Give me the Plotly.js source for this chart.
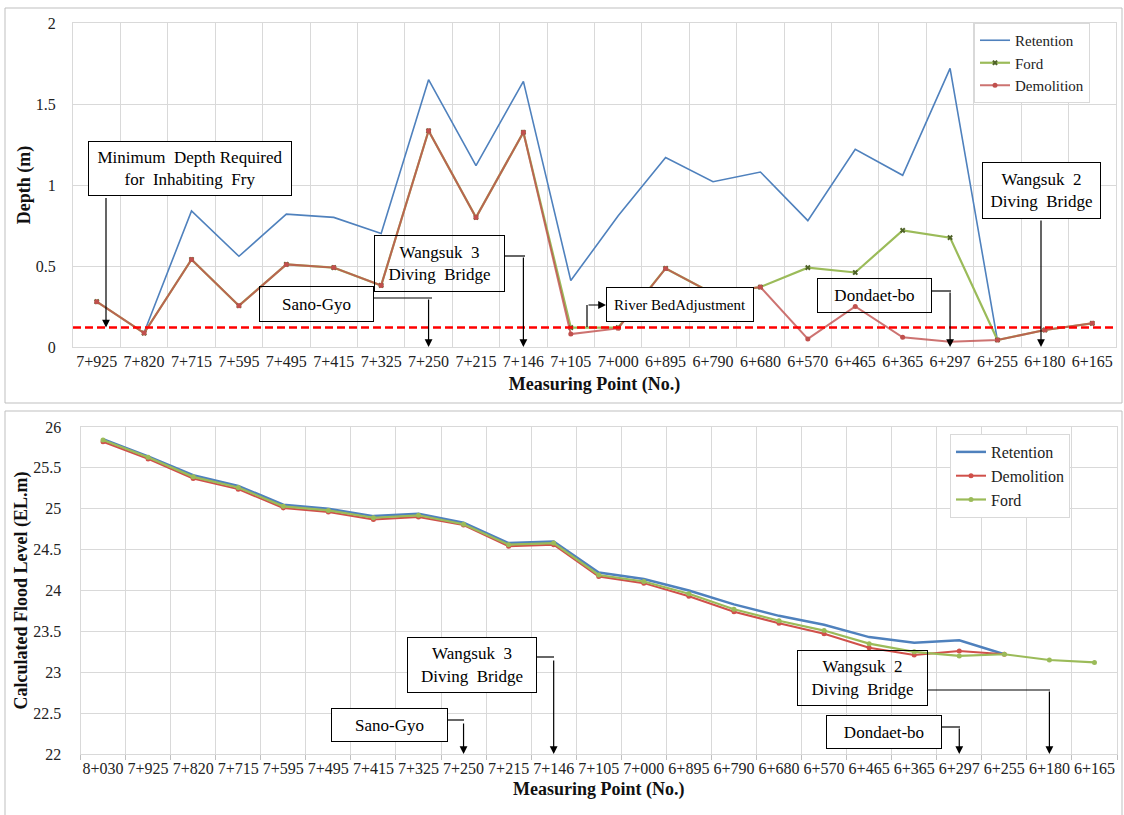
<!DOCTYPE html>
<html>
<head>
<meta charset="utf-8">
<script src="https://cdn.plot.ly/plotly-3.0.1.min.js"></script>
<style>html,body{margin:0;padding:0;background:#fff;}#chart{width:1124px;height:815px;}</style>
</head>
<body>
<div id="chart"></div>
<script>
// ---------- data ----------
const topLabels = ['7+925','7+820','7+715','7+595','7+495','7+415','7+325','7+250','7+215','7+146','7+105','7+000','6+895','6+790','6+680','6+570','6+465','6+365','6+297','6+255','6+180','6+165'];
const topRetention  = [null,0.09,0.84,0.56,0.82,0.80,0.70,1.65,1.12,1.64,0.41,0.81,1.17,1.02,1.08,0.78,1.22,1.06,1.72,0.04,null,null];
const topFord       = [0.28,0.086,0.54,0.255,0.51,0.49,0.38,1.335,0.80,1.325,0.12,0.12,0.485,0.33,0.37,0.49,0.46,0.72,0.675,0.043,0.105,0.146];
const topDemolition = [0.28,0.086,0.54,0.255,0.51,0.49,0.38,1.335,0.80,1.325,0.08,0.115,0.485,0.33,0.37,0.05,0.25,0.06,0.033,0.043,0.105,0.146];
const minDepthFry = 0.12;

const botLabels = ['8+030','7+925','7+820','7+715','7+595','7+495','7+415','7+325','7+250','7+215','7+146','7+105','7+000','6+895','6+790','6+680','6+570','6+465','6+365','6+297','6+255','6+180','6+165'];
const botRetention  = [25.85,25.64,25.41,25.28,25.05,25.00,24.91,24.94,24.83,24.58,24.60,24.22,24.14,24.00,23.83,23.69,23.58,23.43,23.36,23.39,23.22];
const botDemolition = [25.82,25.61,25.37,25.24,25.01,24.96,24.87,24.90,24.80,24.54,24.56,24.17,24.09,23.93,23.74,23.60,23.47,23.30,23.21,23.26,23.22];
const botFord       = [25.84,25.63,25.39,25.26,25.03,24.98,24.89,24.92,24.81,24.56,24.58,24.19,24.11,23.96,23.77,23.63,23.51,23.35,23.25,23.20,23.22,23.15,23.12];

// ---------- helpers ----------
const W = 1124, H = 815;
const px = x => x / W;
const py = y => 1 - y / H;
const SERIF = '"Liberation Serif", "DejaVu Serif", "Times New Roman", Times, serif';
const C_BLUE = '#4F81BD', C_GREEN = '#9BBB59', C_RED = '#C0504D';

const traces = [
  {x: topLabels, y: topRetention, name: 'Retention', type: 'scatter', mode: 'lines',
   line: {color: C_BLUE, width: 1.6}, xaxis: 'x', yaxis: 'y', legend: 'legend'},
  {x: topLabels, y: topFord, name: 'Ford', type: 'scatter', mode: 'lines+markers',
   line: {color: C_GREEN, width: 2.2}, marker: {symbol: 'x', size: 5, color: '#4F6228'},
   xaxis: 'x', yaxis: 'y', legend: 'legend'},
  {x: topLabels, y: topDemolition, name: 'Demolition', type: 'scatter', mode: 'lines+markers',
   line: {color: 'rgba(192,80,77,0.8)', width: 2}, marker: {symbol: 'circle', size: 5, color: C_RED},
   xaxis: 'x', yaxis: 'y', legend: 'legend'},

  {x: botLabels, y: botRetention, name: 'Retention', type: 'scatter', mode: 'lines',
   line: {color: C_BLUE, width: 2.5}, xaxis: 'x2', yaxis: 'y2', legend: 'legend2'},
  {x: botLabels, y: botDemolition, name: 'Demolition', type: 'scatter', mode: 'lines+markers',
   line: {color: '#D0504A', width: 2}, marker: {symbol: 'circle', size: 5, color: '#D0504A'},
   xaxis: 'x2', yaxis: 'y2', legend: 'legend2'},
  {x: botLabels, y: botFord, name: 'Ford', type: 'scatter', mode: 'lines+markers',
   line: {color: C_GREEN, width: 2.2}, marker: {symbol: 'circle', size: 5, color: C_GREEN},
   xaxis: 'x2', yaxis: 'y2', legend: 'legend2'}
];

const tickFont = {family: SERIF, size: 16, color: '#222'};
const titleFont = {family: SERIF, size: 18, color: '#111', weight: 'bold'};
const GRID = '#d9d9d9';

function box(x0, y0, x1, y1, text, fill, size) {
  const pad = 2;
  return {xref: 'paper', yref: 'paper', x: px(x0), y: py(y0), xanchor: 'left', yanchor: 'top',
    width: x1 - x0 - 2 * pad - 2, height: y1 - y0 - 2 * pad - 2, borderpad: pad,
    text: text, showarrow: false, bgcolor: fill || 'rgba(255,255,255,0)', bordercolor: '#000', borderwidth: 1,
    align: 'center', valign: 'middle', font: {family: SERIF, size: size || 17, color: '#000'}};
}
function arrow(x, xref, y, yref, ax, ay) {
  return {x: x, xref: xref, y: y, yref: yref, ax: ax, ay: ay, text: '', showarrow: true,
    arrowhead: 2, arrowsize: 1.3, arrowwidth: 1.2, arrowcolor: '#000'};
}
function seg(x0, y0, x1, y1) {
  return {type: 'line', xref: 'paper', yref: 'paper', x0: px(x0), y0: py(y0), x1: px(x1), y1: py(y1),
    line: {color: '#000', width: 1.2}};
}

const annotations = [
  // top chart
  box(88, 141, 292, 196, 'Minimum  Depth Required<br>for  Inhabiting  Fry', '#fff'),
  arrow(px(106), 'paper', minDepthFry, 'y', 0, -131),
  box(259, 286, 374, 322, 'Sano-Gyo'),
  arrow('7+250', 'x', 0, 'y', 0, -49),
  box(374, 235, 505, 292, 'Wangsuk  3<br>Diving  Bridge'),
  arrow('7+146', 'x', 0, 'y', 0, -91),
  box(606, 287, 754, 322, 'River BedAdjustment', '#fff', 15),
  arrow(px(606), 'paper', py(305), 'paper', -19, 0),
  box(817, 278, 932, 313, 'Dondaet-bo'),
  arrow('6+297', 'x', 0, 'y', 0, -56),
  box(982, 162, 1101, 219, 'Wangsuk  2<br>Diving  Bridge', '#fff'),
  arrow(px(1041), 'paper', 0, 'y', 0, -128),
  // bottom chart
  box(407, 637, 537, 693, 'Wangsuk  3<br>Diving  Bridge', '#fff'),
  arrow('7+146', 'x2', 22, 'y2', 0, -95),
  box(331, 708, 448, 742, 'Sano-Gyo', '#fff'),
  arrow('7+250', 'x2', 22, 'y2', 0, -32),
  box(797, 650, 928, 706, 'Wangsuk  2<br>Diving  Bridge'),
  arrow('6+180', 'x2', 22, 'y2', 0, -64),
  box(826, 715, 942, 749, 'Dondaet-bo', '#fff'),
  arrow('6+297', 'x2', 22, 'y2', 0, -27)
];

const shapes = [
  {type: 'rect', xref: 'paper', yref: 'paper', x0: px(5), y0: py(8), x1: px(1122), y1: py(403),
   line: {color: '#bfbfbf', width: 1}, layer: 'below'},
  {type: 'rect', xref: 'paper', yref: 'paper', x0: px(5), y0: py(411), x1: px(1122), y1: py(816),
   line: {color: '#bfbfbf', width: 1}, layer: 'below'},
  {type: 'line', xref: 'x domain', yref: 'y', x0: 0, x1: 1, y0: minDepthFry, y1: minDepthFry,
   line: {color: '#FF0000', width: 2.5, dash: '8px,4px'}},
  // connectors (top)
  seg(374, 298, 432, 298),
  seg(505, 256, 525, 256),
  seg(587, 327, 587, 305),
  seg(932, 291, 951, 291),
  // connectors (bottom)
  seg(537, 657, 554, 657),
  seg(448, 720, 464, 720),
  seg(928, 690, 1050, 690),
  seg(942, 727, 960, 727)
];

const layout = {
  width: W, height: H,
  margin: {l: 0, r: 0, t: 0, b: 0},
  paper_bgcolor: '#fff', plot_bgcolor: '#fff',
  showlegend: true,
  xaxis: {domain: [px(73), px(1116)], anchor: 'y', type: 'category',
    categoryorder: 'array', categoryarray: topLabels, range: [-0.5, topLabels.length - 0.5],
    tickson: 'boundaries', ticks: '', showgrid: true, gridcolor: GRID, gridwidth: 1,
    showline: true, mirror: true, linecolor: GRID, tickfont: tickFont, tickangle: 0,
    title: {text: 'Measuring Point (No.)', font: titleFont, standoff: 8}, fixedrange: true},
  yaxis: {domain: [py(347), py(23)], anchor: 'x', range: [0, 2], dtick: 0.5,
    showgrid: true, gridcolor: GRID, zeroline: false, showline: true, mirror: true, linecolor: GRID,
    tickfont: tickFont, ticklabelstandoff: 13,
    title: {text: 'Depth (m)', font: titleFont, standoff: 0}, fixedrange: true},
  xaxis2: {domain: [px(80.5), px(1117)], anchor: 'y2', type: 'category',
    categoryorder: 'array', categoryarray: botLabels, range: [-0.5, botLabels.length - 0.5],
    tickson: 'boundaries', ticks: 'outside', ticklen: 5, tickcolor: '#bfbfbf',
    showgrid: true, gridcolor: GRID, gridwidth: 1,
    showline: true, mirror: true, linecolor: GRID, tickfont: tickFont, tickangle: 0,
    title: {text: 'Measuring Point (No.)', font: titleFont, standoff: 6}, fixedrange: true},
  yaxis2: {domain: [py(754), py(427)], anchor: 'x2', range: [22, 26], dtick: 0.5,
    showgrid: true, gridcolor: GRID, zeroline: false, showline: true, mirror: true, linecolor: GRID,
    tickfont: tickFont, ticklabelstandoff: 15,
    title: {text: 'Calculated Flood Level (EL.m)', font: titleFont, standoff: 0}, fixedrange: true},
  legend: {x: px(974), y: py(23), xanchor: 'left', yanchor: 'top', bgcolor: '#fff',
    bordercolor: GRID, borderwidth: 1, font: {family: SERIF, size: 15, color: '#222'},
    itemwidth: 30, tracegroupgap: 0},
  legend2: {x: px(950), y: py(434), xanchor: 'left', yanchor: 'top', bgcolor: '#fff',
    bordercolor: GRID, borderwidth: 1, font: {family: SERIF, size: 16, color: '#222'},
    itemwidth: 30, tracegroupgap: 0},
  annotations: annotations,
  shapes: shapes
};

Plotly.newPlot('chart', traces, layout, {displayModeBar: false, staticPlot: true});
</script>
</body>
</html>
